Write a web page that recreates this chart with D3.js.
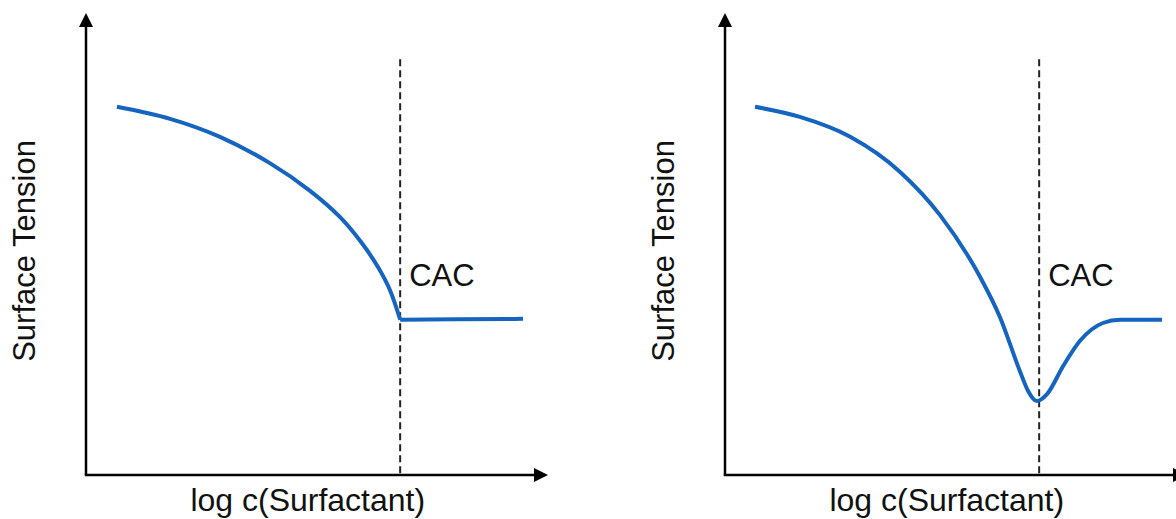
<!DOCTYPE html>
<html>
<head>
<meta charset="utf-8">
<script src="https://cdn.jsdelivr.net/npm/d3@7"></script>
<style>
  html, body { margin: 0; padding: 0; background: #fff; }
  svg { display: block; }
  text { font-family: "Liberation Sans", Arial, sans-serif; fill: #111; }
</style>
</head>
<body>
<svg id="chart" width="1176" height="519"></svg>
<script>
// Schematic surface tension isotherms (arbitrary units on both axes)
const cacLogC = 68;           // critical aggregation concentration on the log c axis
const dashTop = 90;           // top of the CAC guide line

// Left: tension falls and levels off at the CAC
const leftLogC    = [6.7, 18.2, 29.0, 39.8, 48.5, 55.0, 59.7, 63.2, 65.8, 68.0];
const leftTension = [79.7, 77.1, 73.2, 67.5, 61.5, 55.8, 50.2, 45.0, 40.0, 33.6];
const leftPlateauLogC    = [68.0, 80.0, 94.6];
const leftPlateauTension = [33.6, 33.7, 33.8];

// Right: tension passes a minimum at the CAC, then recovers to a plateau
const rightLogC    = [6.5, 16.2, 27.1, 37.9, 46.5, 55.2, 59.5, 63.9, 65.6, 67.5, 69.7, 73.2, 76.8, 81.8, 85.5, 94.6];
const rightTension = [79.7, 77.5, 73.2, 65.6, 56.3, 42.9, 34.2, 22.3, 18.2, 16.0, 17.5, 23.6, 29.0, 32.9, 33.6, 33.6];

const xLabel = "log c(Surfactant)";
const yLabel = "Surface Tension";
const cacLabel = "CAC";

const svg = d3.select("#chart");
const lineColor = "#1565c0";

function drawPanel(originX, segments) {
  const x = d3.scaleLinear().domain([0, 100]).range([originX, originX + 462]);
  const y = d3.scaleLinear().domain([0, 100]).range([475, 13]);
  const g = svg.append("g");

  // axes with arrow heads
  const ah = 14, aw = 7;
  g.append("line")
    .attr("x1", x(0)).attr("y1", y(0)).attr("x2", x(0)).attr("y2", y(100) + ah)
    .attr("stroke", "#000").attr("stroke-width", 2.5);
  g.append("path")
    .attr("d", `M${x(0)},${y(100)} L${x(0) - aw},${y(100) + ah} L${x(0) + aw},${y(100) + ah} Z`)
    .attr("fill", "#000");
  g.append("line")
    .attr("x1", x(0) - 1.25).attr("y1", y(0)).attr("x2", x(100) - ah).attr("y2", y(0))
    .attr("stroke", "#000").attr("stroke-width", 2.5);
  g.append("path")
    .attr("d", `M${x(100)},${y(0)} L${x(100) - ah},${y(0) - aw} L${x(100) - ah},${y(0) + aw} Z`)
    .attr("fill", "#000");

  // CAC guide
  g.append("line")
    .attr("x1", x(cacLogC)).attr("x2", x(cacLogC))
    .attr("y1", y(dashTop)).attr("y2", y(0))
    .attr("stroke", "#222").attr("stroke-width", 2)
    .attr("stroke-dasharray", "7,4");

  g.append("text")
    .attr("x", x(cacLogC) + 9).attr("y", y(41))
    .attr("font-size", 31)
    .text(cacLabel);

  // isotherm
  segments.forEach(seg => {
    const line = d3.line()
      .x(d => x(d[0])).y(d => y(d[1]))
      .curve(seg.curve);
    const pts = seg.xs.map((v, i) => [v, seg.ys[i]]);
    g.append("path")
      .attr("d", line(pts))
      .attr("fill", "none")
      .attr("stroke", lineColor)
      .attr("stroke-width", 4)
      .attr("stroke-linejoin", "round")
      .attr("stroke-linecap", "butt");
  });

  // axis titles
  g.append("text")
    .attr("x", x(48)).attr("y", 511)
    .attr("text-anchor", "middle")
    .attr("font-size", 32)
    .text(xLabel);
  g.append("text")
    .attr("transform", `translate(${x(0) - 51},${y(48.5)}) rotate(-90)`)
    .attr("text-anchor", "middle")
    .attr("font-size", 31)
    .text(yLabel);
}

drawPanel(86, [
  { xs: leftLogC, ys: leftTension, curve: d3.curveCatmullRom },
  { xs: leftPlateauLogC, ys: leftPlateauTension, curve: d3.curveMonotoneX }
]);
drawPanel(725, [
  { xs: rightLogC, ys: rightTension, curve: d3.curveMonotoneX }
]);
</script>
</body>
</html>
